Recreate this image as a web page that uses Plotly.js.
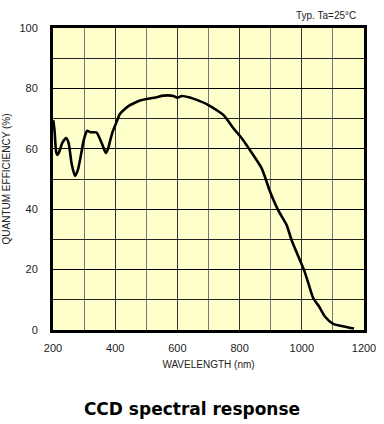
<!DOCTYPE html>
<html>
<head>
<meta charset="utf-8">
<script src="https://cdn.plot.ly/plotly-3.0.1.min.js"></script>
<style>html,body{margin:0;padding:0;background:#fff;}#chart{width:384px;height:424px;}</style>
</head>
<body>
<div id="chart"></div>
<script>
const wavelength = [201, 205, 210, 214, 220, 230, 242, 250, 260, 271, 280, 290, 297, 305, 310, 320, 330, 340, 350, 360, 370, 377, 383, 393, 405, 415, 431, 445, 458, 480, 501, 530, 555, 587, 600, 614, 640, 662, 694, 726, 750, 780, 807, 833, 871, 898, 924, 951, 967, 989, 1007, 1021, 1037, 1056, 1075, 1101, 1139, 1168];
const efficiency = [69.5, 66, 59, 58, 59, 62, 63.6, 62, 55, 51, 53, 58, 62, 65, 66, 65.5, 65.5, 65.4, 63.5, 61, 58.6, 60, 62.4, 66, 69, 71.5, 73.2, 74.3, 75, 76, 76.5, 77, 77.6, 77.5, 76.9, 77.5, 77, 76.2, 74.8, 72.8, 71, 66.8, 63.5, 59.6, 53.5, 45.8, 39.7, 34.8, 29.8, 24.3, 19.9, 15.5, 10.5, 7.7, 4.4, 2, 1.1, 0.5];
const xTicks = [200, 400, 600, 800, 1000, 1200];
const yTicks = [0, 20, 40, 60, 80, 100];
const chartTitle = "CCD spectral response";
const xTitle = "WAVELENGTH (nm)";
const yTitle = "QUANTUM EFFICIENCY (%)";
const noteText = "Typ. Ta=25°C";

const tickFont = {family: "Liberation Sans, Arial, sans-serif", size: 11, color: "#222"};

Plotly.newPlot("chart", [{
  x: wavelength, y: efficiency, type: "scatter", mode: "lines",
  line: {color: "#000", width: 2.6, shape: "spline", smoothing: 0.6},
  hoverinfo: "skip"
}], {
  width: 384, height: 424,
  margin: {l: 53, r: 20, t: 28, b: 94},
  paper_bgcolor: "#fff", plot_bgcolor: "#ffffcc",
  showlegend: false,
  title: {text: chartTitle, font: {family: "DejaVu Sans, Verdana, sans-serif", size: 17, color: "#000", weight: "bold"},
          x: 0.5, xanchor: "center", xref: "container", y: 1 - 409/424, yref: "container", yanchor: "middle"},
  xaxis: {
    range: [200, 1200], tickvals: xTicks, ticktext: xTicks.map(String),
    showgrid: true, gridcolor: "#333", gridwidth: 1,
    minor: {dtick: 100, tick0: 200, showgrid: true, gridcolor: "#777", gridwidth: 1, ticks: ""},
    showline: true, linecolor: "#000", linewidth: 3, mirror: true,
    ticks: "outside", ticklen: 6, tickcolor: "rgba(0,0,0,0)",
    tickfont: tickFont, zeroline: false,
    title: {text: xTitle, font: {family: "Liberation Sans, Arial, sans-serif", size: 10, color: "#222"}, standoff: 8}
  },
  yaxis: {
    range: [0, 100], tickvals: yTicks, ticktext: yTicks.map(String),
    showgrid: true, gridcolor: "#000", gridwidth: 1,
    minor: {dtick: 10, tick0: 0, showgrid: true, gridcolor: "#222", gridwidth: 1, ticks: ""},
    showline: true, linecolor: "#000", linewidth: 3, mirror: true,
    ticks: "outside", ticklen: 10, tickcolor: "rgba(0,0,0,0)",
    tickfont: tickFont, zeroline: false,
    title: {text: yTitle, font: {family: "Liberation Sans, Arial, sans-serif", size: 10, color: "#222"}, standoff: 7}
  },
  annotations: [{
    text: noteText, xref: "paper", yref: "paper", x: 0.98, y: 1, xanchor: "right", yanchor: "bottom",
    yshift: 5, showarrow: false, font: {family: "Liberation Sans, Arial, sans-serif", size: 10, color: "#222"}
  }]
}, {staticPlot: true, displayModeBar: false});
</script>
</body>
</html>
